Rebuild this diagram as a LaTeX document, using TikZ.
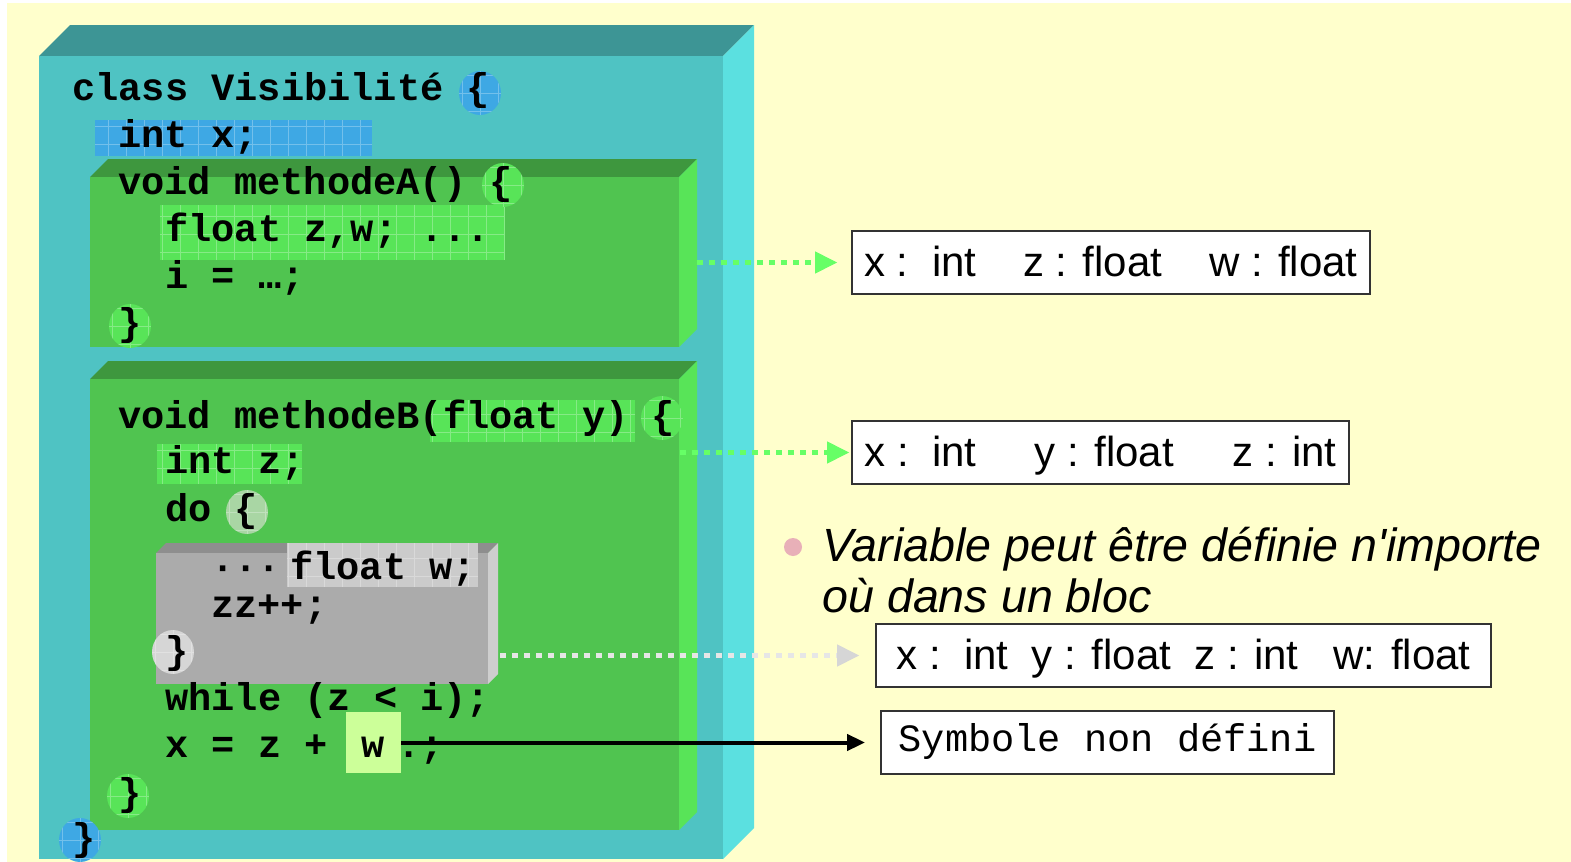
\documentclass[tikz,border=0pt]{standalone}
\usepackage{fontspec}
\setmainfont{Liberation Sans}
\newfontfamily\notefont{Liberation Sans}
\newfontfamily\codefont{Liberation Mono}
\usetikzlibrary{arrows.meta,shapes.geometric}

\definecolor{paper}{HTML}{FFFFCC}
\definecolor{cyanfront}{HTML}{4FC3C3}
\definecolor{cyantop}{HTML}{3D9595}
\definecolor{cyanside}{HTML}{5BE0E0}
\definecolor{grnfront}{HTML}{50C450}
\definecolor{grntop}{HTML}{3E973E}
\definecolor{grnside}{HTML}{58E458}
\definecolor{grnhl}{HTML}{58E458}
\definecolor{bluehl}{HTML}{3EA8E4}
\definecolor{grayfront}{HTML}{ABABAB}
\definecolor{graytop}{HTML}{8E8E8E}
\definecolor{grayside}{HTML}{CECECE}
\definecolor{grayhl}{HTML}{CBCBCB}
\definecolor{dopale}{HTML}{A9D6A4}
\definecolor{graypale}{HTML}{D6D6D6}
\definecolor{wmark}{HTML}{CCFF99}
\definecolor{arrowgrn}{HTML}{66FF66}
\definecolor{arrowgray}{HTML}{E6E6E6}
\definecolor{arrowgrayhead}{HTML}{D6D6D6}
\definecolor{bulletpink}{HTML}{E8B0B8}
\definecolor{boxline}{HTML}{333333}

% a block drawn as a slab: front face, top face and right face
% #1 #2 = front top-left, #3 #4 = front bottom-right, #5 = depth
\newcommand\slab[8]{%
  \fill[#7] (#1,#2) -- ({#1+#5},{#2-#5}) -- ({#3+#5},{#2-#5}) -- (#3,#2) -- cycle;
  \fill[#8] (#3,#2) -- ({#3+#5},{#2-#5}) -- ({#3+#5},{#4-#5}) -- (#3,#4) -- cycle;
  \fill[#6] (#1,#2) rectangle (#3,#4);}

\begin{document}
\begin{tikzpicture}[x=0.5pt,y=-0.5pt,
  hl/.style={path picture={\draw[white,opacity=.28,line width=.5pt,step=9pt]
      (path picture bounding box.south west) grid (path picture bounding box.north east);}},
  blob/.style={ellipse,inner sep=0pt,minimum width=21pt,minimum height=22pt,hl},
  codefnt/.style={font=\codefont\bfseries\fontsize{19.33pt}{23pt}\selectfont},
  code/.style={anchor=base west,inner sep=0pt,codefnt},
  result/.style={draw=boxline,line width=.9pt,fill=white,inner sep=0pt,
      minimum height=31.5pt,text height=16pt,text depth=2pt,
      font=\fontsize{21pt}{25pt}\selectfont},
  note/.style={anchor=base west,inner sep=0pt,
      font=\notefont\itshape\fontsize{23.3pt}{28pt}\selectfont},
  garrow/.style={draw=arrowgrn,line width=2.6pt,dash pattern=on 3pt off 3pt,
      -{Triangle[length=11pt,width=11pt,line width=.5pt,fill=arrowgrn]}},
  warrow/.style={draw=arrowgray,line width=2.6pt,dash pattern=on 3pt off 3pt,
      -{Triangle[length=11pt,width=11pt,line width=.5pt,color=arrowgrayhead,fill=arrowgrayhead]}},
  barrow/.style={draw=black,line width=2pt,-{Triangle[length=9pt,width=8pt]}}]

\useasboundingbox (0,0) rectangle (1571,862);
\fill[white] (0,0) rectangle (1571,862);
\fill[paper] (7,3) rectangle (1571,862);

% class block
\slab{39}{56}{723}{859}{31}{cyanfront}{cyantop}{cyanside}
\fill[bluehl,hl] (95,120) rectangle (372,156);

% method blocks
\slab{90}{177}{679}{347}{18}{grnfront}{grntop}{grnside}
\slab{90}{379}{679}{830}{18}{grnfront}{grntop}{grnside}
\fill[grnhl,hl] (160,205) rectangle (505,260);
\fill[grnhl,hl] (430,400) rectangle (635,442);
\fill[grnhl,hl] (157,444) rectangle (302,484);

% braces marks
\node[blob,fill=bluehl] (bClassOpen) at (480,93) {};
\node[blob,fill=grnhl] (bAOpen) at (503,185) {};
\node[blob,fill=grnhl] (bAClose) at (130,326) {};
\node[blob,fill=grnhl] (bBOpen) at (662,418) {};
\node[blob,fill=dopale] (bDoOpen) at (247,512) {};
\node[blob,fill=grnhl] (bBClose) at (128,796) {};
\node[blob,fill=bluehl] (bClassClose) at (80,840) {};

% inner block of the loop
\slab{156}{553}{488}{684}{10}{grayfront}{graytop}{grayside}
\fill[grayhl,hl] (287,543) rectangle (478,587);
\node[blob,fill=graypale] (bDoClose) at (173,652) {};

% source text
\node[code] (l1) at (72,100) {class Visibilité \{};
\node[code] (l2) at (118,147) {int x;};
\node[code] (l3) at (118,194) {void methodeA() \{};
\node[code] (l4) at (165,241) {float z,w; ...};
\node[code] (l5) at (165,288) {i = …;};
\node[code] (l6) at (118,335) {\}};
\node[code] (l7) at (118,428) {void methodeB(float y) \{};
\node[code] (l8) at (165,473) {int z;};
\node[code] (l9) at (165,521) {do \{};
\node[code] (l10a) at (211,579) {···};
\node[code] (l10b) at (290,579) {float w;};
\node[code] (l11) at (211,617) {zz++;};
\node[code] (l12) at (165,663) {\}};
\node[code] (l13) at (165,710) {while (z < i);};
\node[code] (l14a) at (165,757) {x = z +};
\node[code] (l14b) at (397,757) {.;};
\node[code] (l15) at (118,805) {\}};
\node[code] (l16) at (72,850) {\}};

% the undefined symbol
\node[codefnt,fill=wmark,inner sep=0pt,minimum width=27.5pt,minimum height=30.5pt,
  text height=15pt,text depth=.5pt] (wbox) at (373.5,742.5) {w};

% scopes seen from each block
\node[result,minimum width=259pt] (box1) at (1111,262.5)
  {x :\ \ int\ \ \ \ z : float\ \ \ \ w : float};
\node[result,minimum width=248.5pt] (box2) at (1100.5,452.5)
  {x :\ \ int\ \ \ \ \ y : float\ \ \ \ \ z : int};
\node[result,minimum width=307.5pt] (box3) at (1183.5,655.5)
  {x :\ \ int\ \ y : float\ \ z : int\ \ \ w: float};
\node[result,minimum width=226.5pt,text height=12pt,text depth=3.5pt,
  font=\codefont\fontsize{19.33pt}{23pt}\selectfont] (box4) at (1107.5,742.5)
  {Symbole non défini};

% connectors
\coordinate (a1) at (697,262.5);
\coordinate (a2) at (680,452.5);
\coordinate (a3) at (500,655.5);
\draw[garrow,shorten >=7pt] (a1) -- (box1.west);
\draw[garrow,shorten >=1pt] (a2) -- (box2.west);
\draw[warrow,shorten >=8pt] (a3) -- (box3.west);
\draw[barrow,shorten >=7.5pt] (wbox.east) -- (box4.west);

% remark
\fill[bulletpink] (793,547) circle[radius=4.5pt];
\node[note] (n1) at (822,561) {Variable peut être définie n'importe};
\node[note] (n2) at (822,612) {où dans un bloc};
\end{tikzpicture}
\end{document}
